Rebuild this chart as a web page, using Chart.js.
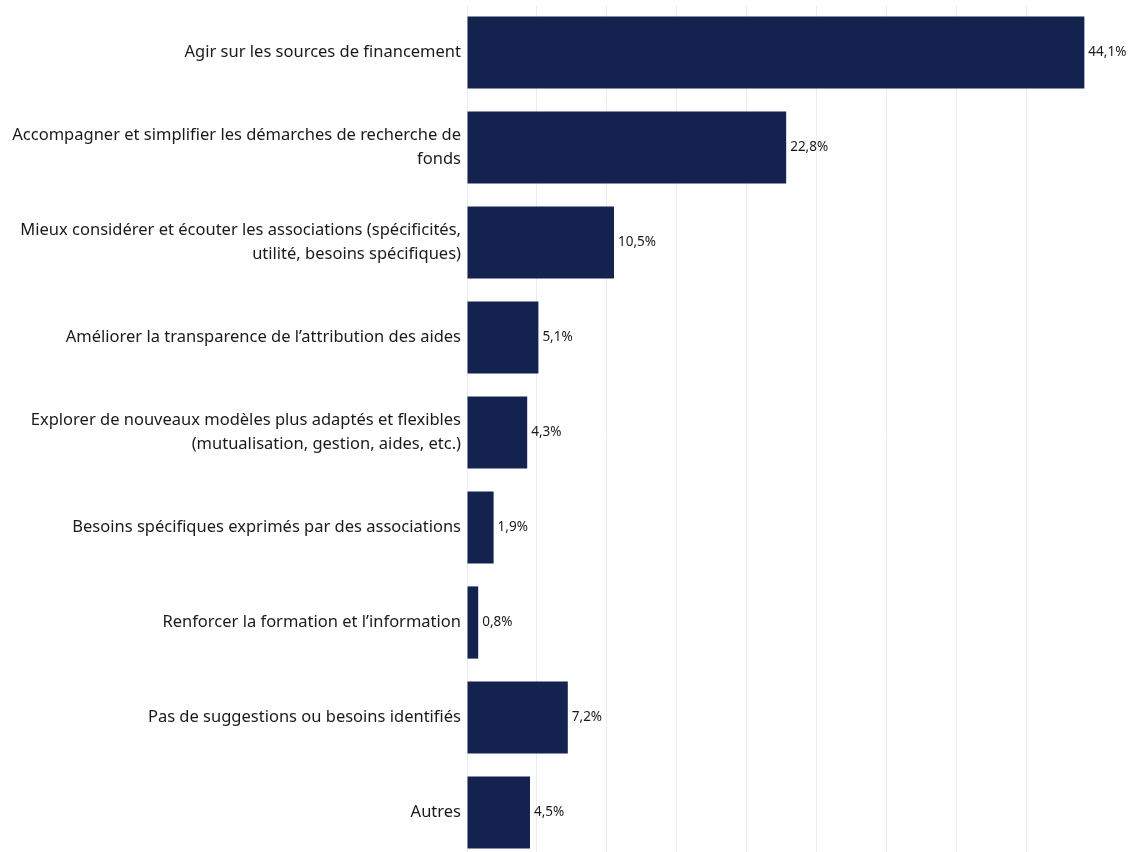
<!DOCTYPE html>
<html>
<head>
<meta charset="utf-8">
<script src="https://cdn.jsdelivr.net/npm/chart.js@4.4.1/dist/chart.umd.min.js"></script>
<style>
  html, body { margin: 0; padding: 0; background: #fff; overflow: hidden; }
  #wrap { position: relative; width: 1130px; height: 860px; }
</style>
</head>
<body>
<div id="wrap"><canvas id="barChart"></canvas></div>
<script>
// categories (multi-line labels are arrays)
const categories = [
  "Agir sur les sources de financement",
  ["Accompagner et simplifier les démarches de recherche de", "fonds"],
  ["Mieux considérer et écouter les associations (spécificités,", "utilité, besoins spécifiques)"],
  "Améliorer la transparence de l’attribution des aides",
  ["Explorer de nouveaux modèles plus adaptés et flexibles", "(mutualisation, gestion, aides, etc.)"],
  "Besoins spécifiques exprimés par des associations",
  "Renforcer la formation et l’information",
  "Pas de suggestions ou besoins identifiés",
  "Autres"
];
const shares = [44.1, 22.8, 10.5, 5.1, 4.3, 1.9, 0.8, 7.2, 4.5];

const fontFamily = "'Noto Sans', 'Open Sans', sans-serif";

// draws "44,1%" next to each bar
const valueLabels = {
  id: "valueLabels",
  afterDatasetsDraw(chart) {
    const ctx = chart.ctx;
    const meta = chart.getDatasetMeta(0);
    ctx.save();
    ctx.font = "13.5px " + fontFamily;
    ctx.fillStyle = "#1a1a1a";
    ctx.textAlign = "left";
    ctx.textBaseline = "middle";
    meta.data.forEach((bar, i) => {
      const txt = shares[i].toFixed(1).replace(".", ",") + "%";
      ctx.fillText(txt, bar.x + 4, bar.y);
    });
    ctx.restore();
  }
};

new Chart(document.getElementById("barChart"), {
  type: "bar",
  data: {
    labels: categories,
    datasets: [{
      data: shares,
      backgroundColor: "#14224f",
      borderWidth: 0,
      barPercentage: 0.76,
      categoryPercentage: 1
    }]
  },
  options: {
    indexAxis: "y",
    responsive: true,
    maintainAspectRatio: false,
    animation: false,
    layout: { padding: { top: 5, right: 0, bottom: 0, left: 0 } },
    plugins: {
      legend: { display: false },
      tooltip: { enabled: false }
    },
    scales: {
      x: {
        min: 0,
        max: 47.36,
        ticks: { display: false, stepSize: 5 },
        grid: { color: "#ececec", lineWidth: 1, drawTicks: false },
        border: { display: false },
        afterFit(scale) { scale.height = 0; }
      },
      y: {
        ticks: {
          color: "#1a1a1a",
          padding: 6,
          font: { family: fontFamily, size: 16.5, lineHeight: 1.45 }
        },
        grid: { display: false, drawTicks: false },
        border: { display: false },
        afterFit(scale) {
          scale.width = 467;
          scale.paddingTop = 0;
          scale.paddingBottom = 0;
        }
      }
    }
  },
  plugins: [valueLabels]
});
</script>
</body>
</html>
